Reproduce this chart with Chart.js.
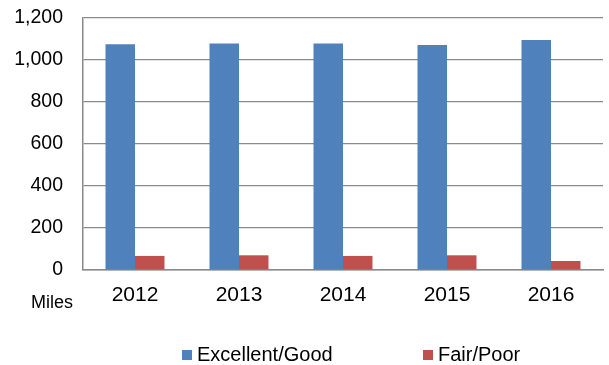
<!DOCTYPE html>
<html>
<head>
<meta charset="utf-8">
<script src="https://cdn.jsdelivr.net/npm/chart.js@4"></script>
<style>
    html, body { margin: 0; padding: 0; background: #ffffff; }
    #wrap { width: 609px; height: 365px; }
</style>
</head>
<body>
<div id="wrap"><canvas id="milesChart" width="609" height="365"></canvas></div>
<script>
// Road condition by year, in miles
const years = ['2012', '2013', '2014', '2015', '2016'];
const excellentGood = [1075, 1078, 1078, 1071, 1095];
const fairPoor = [67, 70, 67, 70, 43];
const yTicks = [0, 200, 400, 600, 800, 1000, 1200];

const seriesNames = ['Excellent/Good', 'Fair/Poor'];
const seriesColors = ['#4F81BD', '#C0504D'];
const gridColor = '#8a8a8a';
const fontFamily = '"Liberation Sans", Arial, sans-serif';

// "Miles" unit label sitting left of the year labels
const unitLabel = {
    id: 'unitLabel',
    afterDraw(chart) {
        const ctx = chart.ctx;
        ctx.save();
        ctx.font = '18px ' + fontFamily;
        ctx.fillStyle = '#000000';
        ctx.textAlign = 'right';
        ctx.textBaseline = 'middle';
        ctx.fillText('Miles', chart.chartArea.left - 10, chart.chartArea.bottom + 33);
        ctx.restore();
    }
};

// legend spread out under the plot
const bottomLegend = {
    id: 'bottomLegend',
    afterDraw(chart) {
        const ctx = chart.ctx;
        const startX = [182, 423];
        const y = 350;
        ctx.save();
        ctx.font = '20px ' + fontFamily;
        ctx.textAlign = 'left';
        ctx.textBaseline = 'middle';
        chart.data.datasets.forEach((ds, i) => {
            ctx.fillStyle = ds.backgroundColor;
            ctx.fillRect(startX[i], y, 10, 10);
            ctx.fillStyle = '#000000';
            ctx.fillText(ds.label, startX[i] + 15, y + 5);
        });
        ctx.restore();
    }
};

const ctx = document.getElementById('milesChart').getContext('2d');
new Chart(ctx, {
    type: 'bar',
    data: {
        labels: years,
        datasets: [
            { label: seriesNames[0], data: excellentGood, backgroundColor: seriesColors[0] },
            { label: seriesNames[1], data: fairPoor, backgroundColor: seriesColors[1] }
        ]
    },
    options: {
        responsive: false,
        animation: false,
        devicePixelRatio: 1,
        layout: { padding: { top: 18, right: 6, bottom: 0, left: 0 } },
        datasets: {
            bar: { categoryPercentage: 0.567, barPercentage: 1.0 }
        },
        plugins: {
            legend: { display: false },
            tooltip: { enabled: false }
        },
        scales: {
            x: {
                grid: { display: false, drawTicks: false },
                border: { display: true, color: gridColor, width: 1.5 },
                ticks: {
                    color: '#000000',
                    padding: 13,
                    font: { family: fontFamily, size: 21 }
                },
                afterFit: (scale) => { scale.height = 95; }
            },
            y: {
                min: 0,
                max: 1200,
                afterBuildTicks: (scale) => {
                    scale.ticks = yTicks.map(v => ({ value: v }));
                },
                grid: { color: gridColor, lineWidth: 1.2, drawTicks: false },
                border: { display: true, color: gridColor, width: 1.5 },
                ticks: {
                    color: '#000000',
                    padding: 20,
                    font: { family: fontFamily, size: 19.5 },
                    callback: (v) => Number(v).toLocaleString('en-US')
                },
                afterFit: (scale) => {
                    scale.width = 83;
                    // tick padding is horizontal here, keep it out of the top/bottom space
                    scale.paddingTop = 0;
                    scale.paddingBottom = 0;
                }
            }
        }
    },
    plugins: [unitLabel, bottomLegend]
});
</script>
</body>
</html>
